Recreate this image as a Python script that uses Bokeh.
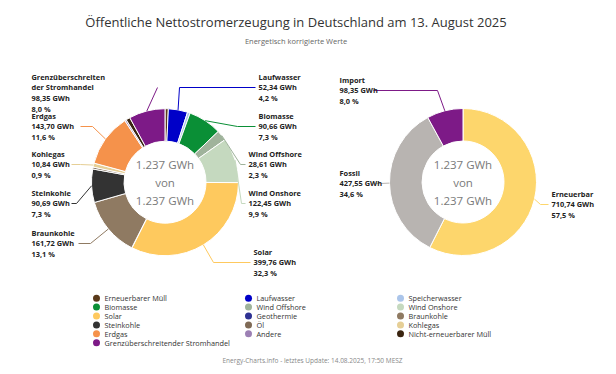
import math
from bokeh.plotting import figure
from bokeh.models import Range1d, ColumnDataSource
from bokeh.core.properties import value
from bokeh.embed import file_html
from bokeh.resources import INLINE

# ---------------- data ----------------
sources = ["Erneuerbarer Müll", "Laufwasser", "Speicherwasser", "Biomasse",
           "Wind Offshore", "Wind Onshore", "Solar", "Geothermie",
           "Braunkohle", "Steinkohle", "Öl", "Kohlegas", "Erdgas", "Andere",
           "Nicht-erneuerbarer Müll", "Grenzüberschreitender Stromhandel"]
energy_gwh = [9.00, 52.34, 7.30, 90.66, 28.61, 122.45, 399.76, 0.62,
              161.72, 90.69, 5.20, 10.84, 143.70, 4.40, 11.00, 98.35]
source_colors = ["#5a3a1a", "#0000c8", "#abc5ea", "#0a8f36",
                 "#9fb39b", "#c5d9bf", "#fec95e", "#2e3192",
                 "#8f7a62", "#333333", "#7f6a55", "#e6cf96", "#f5924b", "#9c80b4",
                 "#3a2410", "#7d1a87"]

groups = ["Erneuerbar", "Fossil", "Import"]
group_gwh = [710.74, 427.55, 98.35]
group_colors = ["#fdd66c", "#b8b4b1", "#7d1a87"]

title = "Öffentliche Nettostromerzeugung in Deutschland am 13. August 2025"
subtitle = "Energetisch korrigierte Werte"
footer = "Energy-Charts.info - letztes Update: 14.08.2025, 17:50 MESZ"

# ---------------- layout (pixel coordinates) ----------------
W, H = 608, 366
FONT = "Open Sans"
R_OUT, R_IN = 73.5, 41.0
LEFT_C = (164.5, 181.7)
RIGHT_C = (462.5, 181.5)
ROW = 10.7

left_labels = {
    "Grenzüberschreitender Stromhandel": dict(x=31, y=76, lines=["Grenzüberschreiten", "der Stromhandel"], path=[(157, 87)]),
    "Laufwasser": dict(x=258, y=76, path=[(255, 87), (179, 87)]),
    "Biomasse": dict(x=258, y=115, path=[(255, 126), (237, 126)]),
    "Wind Offshore": dict(x=248, y=153, path=[(245, 164), (240, 164)]),
    "Wind Onshore": dict(x=248, y=192, path=[(245, 203), (241, 203)]),
    "Solar": dict(x=253, y=251, path=[(250, 262), (213, 262)]),
    "Braunkohle": dict(x=31, y=232, path=[(78, 243), (90, 243)]),
    "Steinkohle": dict(x=31, y=192, path=[(71, 203), (76, 203)]),
    "Kohlegas": dict(x=31, y=153, path=[(71, 164), (80, 164)]),
    "Erdgas": dict(x=31, y=115, path=[(80, 126), (92, 126)]),
}
right_labels = {
    "Import": dict(x=339, y=79, path=[(373, 90), (437, 90)]),
    "Fossil": dict(x=339, y=172, path=[(375, 183), (380, 183)]),
    "Erneuerbar": dict(x=551, y=193, path=[(548, 204), (540, 204)]),
}


def de_num(v, nd=2):
    s = f"{v:,.{nd}f}"
    return s.replace(",", "X").replace(".", ",").replace("X", ".")


p = figure(width=W, height=H, x_range=Range1d(0, W), y_range=Range1d(H, 0),
           output_backend="svg", toolbar_location=None, min_border=0)
p.axis.visible = False
p.xgrid.visible = False
p.ygrid.visible = False
p.outline_line_color = None
p.background_fill_color = "white"
p.border_fill_color = "white"


def donut(names, vals, cols, center, labels):
    total = sum(vals)
    cum = 0.0
    starts, ends, mids = [], [], []
    for v in vals:
        a0 = cum / total * 2 * math.pi
        cum += v
        a1 = cum / total * 2 * math.pi
        # clockwise from 12 o'clock -> bokeh ccw from +x
        starts.append(math.pi / 2 - a1)
        ends.append(math.pi / 2 - a0)
        mids.append((a0 + a1) / 2)
    src = ColumnDataSource(dict(name=names, val=vals, color=cols, start=starts, end=ends))
    p.annular_wedge(x=center[0], y=center[1], inner_radius=R_IN, outer_radius=R_OUT,
                    start_angle="start", end_angle="end", fill_color="color",
                    line_color="white", line_width=1, source=src)
    # connectors and labels
    tx, ty, tt = [], [], []
    for name, v, c, m in zip(names, vals, cols, mids):
        if name not in labels:
            continue
        lab = labels[name]
        ex = center[0] + R_OUT * math.sin(m)
        ey = center[1] - R_OUT * math.cos(m)
        xs = [pt[0] for pt in lab["path"]] + [ex]
        ys = [pt[1] for pt in lab["path"]] + [ey]
        p.line(xs, ys, line_color=c, line_width=1)
        lines = lab.get("lines", [name]) + [de_num(v) + " GWh", de_num(v / total * 100, 1) + " %"]
        for i, t in enumerate(lines):
            tx.append(lab["x"]); ty.append(lab["y"] + i * ROW); tt.append(t)
    p.text(x=tx, y=ty, text=tt, text_font=value(FONT), text_font_size=value("7.4px"),
           text_font_style="bold", text_color="#222222", text_baseline="middle",
           text_align="left")
    tot = de_num(total, 0)
    p.text(x=[center[0]] * 3, y=[center[1] - 18, center[1], center[1] + 18],
           text=[tot + " GWh", "von", tot + " GWh"], text_font=value(FONT),
           text_font_size=value("11.5px"), text_color="#7a7a7a",
           text_baseline="middle", text_align="center")


donut(sources, energy_gwh, source_colors, LEFT_C, left_labels)
donut(groups, group_gwh, group_colors, RIGHT_C, right_labels)

# title / subtitle / footer
p.text(x=[295.5], y=[21.5], text=[title], text_font=value(FONT), text_font_size=value("13px"),
       text_color="#333333", text_baseline="middle", text_align="center")
p.text(x=[295.5], y=[40], text=[subtitle], text_font=value(FONT), text_font_size=value("7.5px"),
       text_color="#666666", text_baseline="middle", text_align="center")
p.text(x=[312], y=[359.5], text=[footer], text_font=value(FONT), text_font_size=value("6.5px"),
       text_color="#888888", text_baseline="middle", text_align="center")

# legend: 3 columns, row-major
col_x = [96, 248, 400]
row_y0, row_dy = 297.7, 8.9
lx, ly, lt, lc = [], [], [], []
for i, (n, c) in enumerate(zip(sources, source_colors)):
    lx.append(col_x[i % 3]); ly.append(row_y0 + (i // 3) * row_dy); lt.append(n); lc.append(c)
p.scatter(x=lx, y=ly, size=7, fill_color=lc, line_color=None)
p.text(x=[v + 8 for v in lx], y=ly, text=lt, text_font=value(FONT), text_font_size=value("7.3px"),
       text_color="#333333", text_baseline="middle", text_align="left")

open("out.html", "w").write(file_html(p, INLINE))
